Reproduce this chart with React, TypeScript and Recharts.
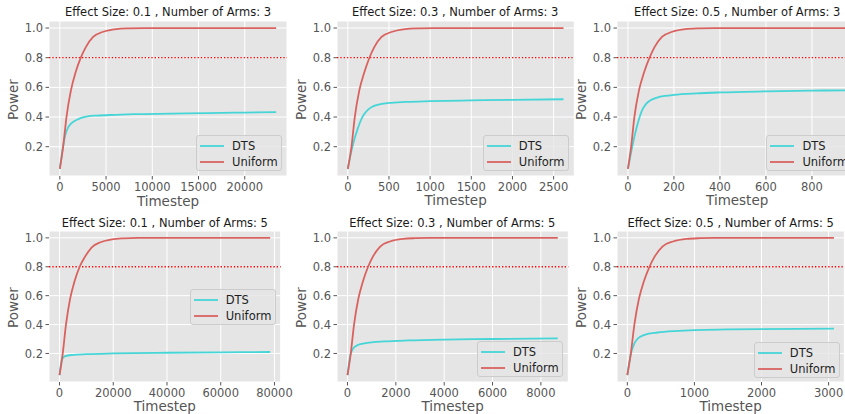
import React from "react";
import {
  LineChart,
  Line,
  XAxis,
  YAxis,
  CartesianGrid,
  ReferenceLine,
  Legend,
  Label,
} from "recharts";

// ---- data (power vs timestep) ----

// Effect size 0.1, 3 arms
const es01a3DtsSteps = [0, 300, 600, 900, 1200, 1500, 2000, 2500, 3000, 4000, 6000, 8000, 12000, 16000, 20000, 23400];
const es01a3DtsPower = [0.05, 0.18, 0.28, 0.33, 0.355, 0.37, 0.386, 0.397, 0.404, 0.41, 0.415, 0.419, 0.423, 0.427, 0.43, 0.433];
const es01a3UniSteps = [0, 360, 720, 1200, 1700, 2270, 2800, 3600, 4700, 6100, 7500, 9000, 15000, 23400];
const es01a3UniPower = [0.05, 0.2, 0.4, 0.58, 0.7, 0.8, 0.87, 0.94, 0.975, 0.993, 0.998, 1.0, 1.0, 1.0];

// Effect size 0.3, 3 arms
const es03a3DtsSteps = [0, 40, 80, 120, 160, 200, 250, 300, 400, 500, 700, 1000, 1500, 2000, 2620];
const es03a3DtsPower = [0.05, 0.16, 0.25, 0.32, 0.38, 0.42, 0.452, 0.47, 0.487, 0.495, 0.502, 0.507, 0.512, 0.516, 0.52];
const es03a3UniSteps = [0, 45, 85, 140, 200, 263, 320, 410, 540, 700, 860, 1040, 1700, 2620];
const es03a3UniPower = [0.05, 0.2, 0.4, 0.58, 0.7, 0.8, 0.87, 0.94, 0.975, 0.993, 0.998, 1.0, 1.0, 1.0];

// Effect size 0.5, 3 arms
const es05a3DtsSteps = [0, 15, 30, 45, 60, 80, 100, 130, 160, 200, 300, 400, 600, 800, 950];
const es05a3DtsPower = [0.05, 0.17, 0.28, 0.37, 0.44, 0.49, 0.515, 0.533, 0.542, 0.55, 0.56, 0.566, 0.573, 0.578, 0.58];
const es05a3UniSteps = [0, 14, 28, 48, 70, 94, 115, 148, 193, 250, 310, 370, 600, 950];
const es05a3UniPower = [0.05, 0.2, 0.4, 0.58, 0.7, 0.8, 0.87, 0.94, 0.975, 0.993, 0.998, 1.0, 1.0, 1.0];

// Effect size 0.1, 5 arms
const es01a5DtsSteps = [0, 400, 800, 1200, 1600, 2000, 3000, 5000, 10000, 20000, 40000, 60000, 78400];
const es01a5DtsPower = [0.05, 0.11, 0.15, 0.168, 0.176, 0.18, 0.185, 0.19, 0.195, 0.2, 0.205, 0.208, 0.21];
const es01a5UniSteps = [0, 1200, 2400, 3950, 5600, 7500, 9500, 12000, 15300, 19500, 24000, 29000, 45000, 78400];
const es01a5UniPower = [0.05, 0.2, 0.4, 0.58, 0.7, 0.8, 0.87, 0.935, 0.97, 0.99, 0.997, 1.0, 1.0, 1.0];

// Effect size 0.3, 5 arms
const es03a5DtsSteps = [0, 60, 120, 200, 300, 450, 700, 1000, 1500, 2500, 4000, 6000, 8700];
const es03a5DtsPower = [0.05, 0.13, 0.19, 0.225, 0.246, 0.26, 0.27, 0.277, 0.283, 0.29, 0.296, 0.3, 0.305];
const es03a5UniSteps = [0, 135, 270, 450, 640, 852, 1050, 1350, 1760, 2290, 2810, 3380, 5500, 8700];
const es03a5UniPower = [0.05, 0.2, 0.4, 0.58, 0.7, 0.8, 0.87, 0.94, 0.975, 0.993, 0.998, 1.0, 1.0, 1.0];

// Effect size 0.5, 5 arms
const es05a5DtsSteps = [0, 30, 60, 100, 150, 200, 300, 450, 700, 1000, 1500, 2000, 3080];
const es05a5DtsPower = [0.05, 0.14, 0.21, 0.265, 0.3, 0.318, 0.335, 0.345, 0.355, 0.362, 0.366, 0.369, 0.372];
const es05a5UniSteps = [0, 52, 105, 174, 247, 330, 407, 523, 683, 887, 1090, 1310, 2000, 3080];
const es05a5UniPower = [0.05, 0.2, 0.4, 0.58, 0.7, 0.8, 0.87, 0.94, 0.975, 0.993, 0.998, 1.0, 1.0, 1.0];

const powerTicks = [0.2, 0.4, 0.6, 0.8, 1.0];
const targetPower = 0.8;
const seriesNames = ["DTS", "Uniform"];

const ticks01a3 = [0, 5000, 10000, 15000, 20000];
const ticks03a3 = [0, 500, 1000, 1500, 2000, 2500];
const ticks05a3 = [0, 200, 400, 600, 800];
const ticks01a5 = [0, 20000, 40000, 60000, 80000];
const ticks03a5 = [0, 2000, 4000, 6000, 8000];
const ticks05a5 = [0, 1000, 2000, 3000];

// ---- styling ----
const FONT = "'DejaVu Sans', Verdana, sans-serif";
const BG = "#E5E5E5";
const DTS_COLOR = "#45D5D7";
const UNI_COLOR = "#D9625F";
const TICK_COLOR = "#555555";
const Y_AXIS_W = 45;
const TOP_M = 20;
const RIGHT_M = 24;
const X_AXIS_H = 34;
const LEG_W = 86;
const LEG_H = 36;

type Row = { step: number; power: number };
const toRows = (steps: number[], power: number[]): Row[] =>
  steps.map((s, i) => ({ step: s, power: power[i] }));

// matplotlib-style 5% auto margins
const padded = (vals: number[]): [number, number] => {
  const lo = Math.min(...vals);
  const hi = Math.max(...vals);
  const m = (hi - lo) * 0.05;
  return [lo - m, hi + m];
};

type PanelCfg = {
  title: string;
  dts: Row[];
  uniform: Row[];
  xTicks: number[];
  plot: { l: number; t: number; r: number; b: number };
  legend: "lower right" | "center right";
  legendInset: number;
};

const panels: PanelCfg[] = [
  {
    title: "Effect Size: 0.1 , Number of Arms: 3",
    dts: toRows(es01a3DtsSteps, es01a3DtsPower),
    uniform: toRows(es01a3UniSteps, es01a3UniPower),
    xTicks: ticks01a3,
    plot: { l: 49, t: 20.5, r: 287, b: 175.5 },
    legend: "lower right",
    legendInset: 5,
  },
  {
    title: "Effect Size: 0.3 , Number of Arms: 3",
    dts: toRows(es03a3DtsSteps, es03a3DtsPower),
    uniform: toRows(es03a3UniSteps, es03a3UniPower),
    xTicks: ticks03a3,
    plot: { l: 336.5, t: 20.5, r: 573.8, b: 175.5 },
    legend: "lower right",
    legendInset: 5,
  },
  {
    title: "Effect Size: 0.5 , Number of Arms: 3",
    dts: toRows(es05a3DtsSteps, es05a3DtsPower),
    uniform: toRows(es05a3UniSteps, es05a3UniPower),
    xTicks: ticks05a3,
    plot: { l: 617, t: 20.5, r: 857.4, b: 175.5 },
    legend: "lower right",
    legendInset: 5,
  },
  {
    title: "Effect Size: 0.1 , Number of Arms: 5",
    dts: toRows(es01a5DtsSteps, es01a5DtsPower),
    uniform: toRows(es01a5UniSteps, es01a5UniPower),
    xTicks: ticks01a5,
    plot: { l: 49, t: 231, r: 280.7, b: 382 },
    legend: "center right",
    legendInset: 5,
  },
  {
    title: "Effect Size: 0.3 , Number of Arms: 5",
    dts: toRows(es03a5DtsSteps, es03a5DtsPower),
    uniform: toRows(es03a5UniSteps, es03a5UniPower),
    xTicks: ticks03a5,
    plot: { l: 336.7, t: 231, r: 568, b: 382 },
    legend: "lower right",
    legendInset: 5,
  },
  {
    title: "Effect Size: 0.5 , Number of Arms: 5",
    dts: toRows(es05a5DtsSteps, es05a5DtsPower),
    uniform: toRows(es05a5UniSteps, es05a5UniPower),
    xTicks: ticks05a5,
    plot: { l: 617, t: 231, r: 844.3, b: 382 },
    legend: "lower right",
    legendInset: 4.5,
  },
];

const LegendBox = () => {
  const colors = [DTS_COLOR, UNI_COLOR];
  return (
    <div
      style={{
        width: LEG_W,
        height: LEG_H,
        boxSizing: "border-box",
        background: "rgba(229,229,229,0.8)",
        border: "1px solid #cccccc",
        borderRadius: 3,
        position: "relative",
        fontFamily: FONT,
        fontSize: 11.5,
        color: "#1e1e1e",
      }}
    >
      {seriesNames.map((name, i) => (
        <div
          key={name}
          style={{
            position: "absolute",
            left: 3,
            top: 2 + i * 16,
            height: 16,
            display: "flex",
            alignItems: "center",
            whiteSpace: "nowrap",
          }}
        >
          <svg width={24} height={4} style={{ marginRight: 8 }}>
            <line x1={0} y1={2} x2={24} y2={2} stroke={colors[i]} strokeWidth={1.8} />
          </svg>
          <span>{name}</span>
        </div>
      ))}
    </div>
  );
};

const Panel = ({ cfg }: { cfg: PanelCfg }) => {
  const { plot } = cfg;
  const plotW = plot.r - plot.l;
  const plotH = plot.b - plot.t;
  const width = plotW + Y_AXIS_W + RIGHT_M;
  const height = TOP_M + plotH + X_AXIS_H;
  const chartLeft = plot.l - Y_AXIS_W;
  const chartTop = plot.t - TOP_M;

  const xDomain = padded([...cfg.dts, ...cfg.uniform].map((d) => d.step));
  const yDomain = padded([...cfg.dts, ...cfg.uniform].map((d) => d.power));

  const legRight = Y_AXIS_W + plotW - cfg.legendInset;
  const legLeft = legRight - LEG_W;
  const legTop =
    cfg.legend === "lower right"
      ? TOP_M + plotH - cfg.legendInset - LEG_H
      : TOP_M + plotH / 2 - LEG_H / 2;

  return (
    <div
      style={{
        position: "absolute",
        left: chartLeft,
        top: chartTop,
        width,
        height,
      }}
    >
      <LineChart
        width={width}
        height={height}
        margin={{ top: TOP_M, right: RIGHT_M, left: 0, bottom: 0 }}
      >
        <CartesianGrid stroke="#ffffff" strokeWidth={1} fill={BG} fillOpacity={1} />
        <XAxis
          type="number"
          dataKey="step"
          domain={xDomain}
          ticks={cfg.xTicks}
          interval={0}
          allowDataOverflow
          height={X_AXIS_H}
          axisLine={false}
          tickLine={{ stroke: TICK_COLOR }}
          tickSize={3.5}
          tickMargin={3}
          tick={{ fill: TICK_COLOR, fontSize: 11.5, fontFamily: FONT }}
        >
          <Label
            content={(p: any) => {
              const vb = p.viewBox || {};
              return (
                <text
                  x={vb.x + vb.width / 2}
                  y={vb.y + 29.5}
                  textAnchor="middle"
                  fontSize={13.5}
                  fill={TICK_COLOR}
                  fontFamily={FONT}
                >
                  Timestep
                </text>
              );
            }}
          />
        </XAxis>
        <YAxis
          type="number"
          domain={yDomain}
          ticks={powerTicks}
          interval={0}
          allowDataOverflow
          width={Y_AXIS_W}
          axisLine={false}
          tickLine={{ stroke: TICK_COLOR }}
          tickSize={3.5}
          tickMargin={2.5}
          tickFormatter={(v: number) => v.toFixed(1)}
          tick={{ fill: TICK_COLOR, fontSize: 11.5, fontFamily: FONT }}
        >
          <Label
            content={(p: any) => {
              const vb = p.viewBox || {};
              const x = vb.x + vb.width - 30.7;
              const y = vb.y + vb.height / 2 + 1;
              return (
                <text
                  x={x}
                  y={y}
                  transform={`rotate(-90, ${x}, ${y})`}
                  textAnchor="middle"
                  fontSize={13.5}
                  fill={TICK_COLOR}
                  fontFamily={FONT}
                >
                  Power
                </text>
              );
            }}
          />
        </YAxis>
        <ReferenceLine
          y={targetPower}
          stroke="#ff0000"
          strokeWidth={1.3}
          strokeDasharray="1.4 1.9"
        />
        <Line
          data={cfg.dts}
          dataKey="power"
          name={seriesNames[0]}
          type="monotone"
          stroke={DTS_COLOR}
          strokeWidth={1.8}
          dot={false}
          activeDot={false}
          isAnimationActive={false}
        />
        <Line
          data={cfg.uniform}
          dataKey="power"
          name={seriesNames[1]}
          type="monotone"
          stroke={UNI_COLOR}
          strokeWidth={1.8}
          dot={false}
          activeDot={false}
          isAnimationActive={false}
        />
        <Legend
          layout="horizontal"
          verticalAlign="middle"
          align="center"
          content={() => <LegendBox />}
          wrapperStyle={{
            position: "absolute",
            left: legLeft,
            top: legTop,
            width: LEG_W,
            height: LEG_H,
            right: "auto",
            bottom: "auto",
          }}
        />
      </LineChart>
      <div
        style={{
          position: "absolute",
          left: Y_AXIS_W,
          width: plotW,
          top: TOP_M - 13.3,
          textAlign: "center",
          fontFamily: FONT,
          fontSize: 11.5,
          lineHeight: "11.5px",
          whiteSpace: "nowrap",
          color: "#1a1a1a",
        }}
      >
        {cfg.title}
      </div>
    </div>
  );
};

export default function App() {
  return (
    <div
      style={{
        position: "fixed",
        left: 0,
        top: 0,
        width: 845,
        height: 414,
        overflow: "hidden",
        background: "#ffffff",
      }}
    >
      {panels.map((p) => (
        <Panel key={p.title} cfg={p} />
      ))}
    </div>
  );
}
